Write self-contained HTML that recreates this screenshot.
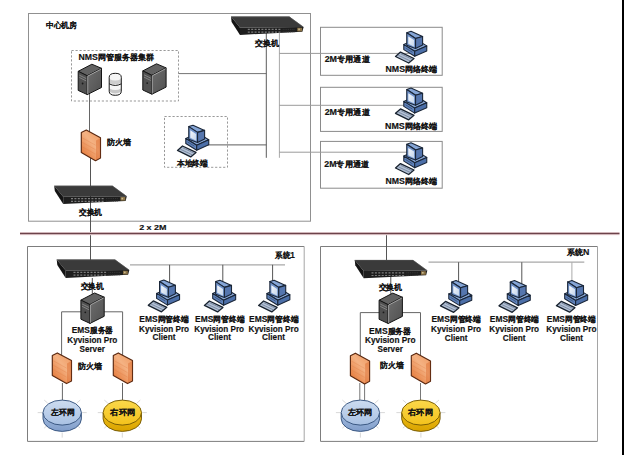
<!DOCTYPE html>
<html><head><meta charset="utf-8"><style>
html,body{margin:0;padding:0;background:#fff;width:624px;height:455px;overflow:hidden;}
svg{display:block;font-family:"Liberation Sans", sans-serif;}
</style></head><body>
<svg width="624" height="455" viewBox="0 0 624 455">
<rect width="624" height="455" fill="#fff"/>

<defs>
 <linearGradient id="scr" x1="0" y1="0" x2="1" y2="1">
  <stop offset="0" stop-color="#f6f9fd"/><stop offset="1" stop-color="#c3d4ea"/>
 </linearGradient>
 <linearGradient id="fwg" x1="0.1" y1="1" x2="0.8" y2="0.1">
  <stop offset="0" stop-color="#e2702e"/><stop offset="0.65" stop-color="#f4b283"/><stop offset="1" stop-color="#f0a06a"/>
 </linearGradient>
 <linearGradient id="srvR" x1="0" y1="0" x2="1" y2="1">
  <stop offset="0" stop-color="#6e6e6e"/><stop offset="1" stop-color="#505050"/>
 </linearGradient>
 <linearGradient id="rbT" x1="0" y1="0" x2="0" y2="1"><stop offset="0" stop-color="#cddcf0"/><stop offset="1" stop-color="#a9c1e3"/></linearGradient>
 <linearGradient id="rbS" x1="0" y1="0" x2="0" y2="1"><stop offset="0" stop-color="#a4bcdf"/><stop offset="1" stop-color="#809dca"/></linearGradient>
 <linearGradient id="ryT" x1="0" y1="0" x2="0" y2="1"><stop offset="0" stop-color="#fbd84a"/><stop offset="1" stop-color="#f3c21c"/></linearGradient>
 <linearGradient id="ryS" x1="0" y1="0" x2="0" y2="1"><stop offset="0" stop-color="#efbd16"/><stop offset="1" stop-color="#d9a300"/></linearGradient>
</defs>

<rect x="28.5" y="13.5" width="282" height="207.7" fill="none" stroke="#909090" stroke-width="1"/>
<rect x="71.5" y="50.5" width="107" height="50.5" fill="none" stroke="#999" stroke-width="1" stroke-dasharray="2.2,1.8"/>
<rect x="164.5" y="116.5" width="63" height="50.8" fill="none" stroke="#999" stroke-width="1" stroke-dasharray="2.2,1.8"/>
<rect x="320.5" y="27.3" width="121.7" height="48.0" fill="none" stroke="#8a8a8a" stroke-width="1"/>
<rect x="320.5" y="87.3" width="121.7" height="44.1" fill="none" stroke="#8a8a8a" stroke-width="1"/>
<rect x="320.5" y="141.4" width="121.7" height="46.8" fill="none" stroke="#8a8a8a" stroke-width="1"/>
<path d="M304.2,246.5 H27.5 V441.4 H304.2" fill="none" stroke="#7d7d7d" stroke-width="1"/>
<path d="M304.2,246.5 V441.4" fill="none" stroke="#a5a5a5" stroke-width="1"/>
<path d="M597.5,246.5 H320.5 V441.4 H597.5" fill="none" stroke="#7d7d7d" stroke-width="1"/>
<path d="M597.5,246.5 V441.4" fill="none" stroke="#a5a5a5" stroke-width="1"/>
<path d="M178.5,73.6 H266.3" fill="none" stroke="#747474" stroke-width="1"/>
<path d="M89.5,94 V132" fill="none" stroke="#666" stroke-width="1"/>
<path d="M90.5,158 V260" fill="none" stroke="#555" stroke-width="1"/>
<path d="M266.3,33 V157.8" fill="none" stroke="#5c5c5c" stroke-width="1"/>
<path d="M279.4,33 V157.8" fill="none" stroke="#a8a8a8" stroke-width="1"/>
<path d="M279.4,53.4 H410 M279.4,105.3 H410 M279.4,152.2 H410" fill="none" stroke="#9a9a9a" stroke-width="1"/>
<path d="M208,144.9 H266.3" fill="none" stroke="#5c5c5c" stroke-width="1"/>
<path d="M130,264.8 H285" fill="none" stroke="#a8a8a8" stroke-width="1.2"/>
<path d="M169.6,264.8 V285" fill="none" stroke="#555" stroke-width="1"/>
<path d="M222.8,264.8 V285" fill="none" stroke="#555" stroke-width="1"/>
<path d="M272.6,264.8 V285" fill="none" stroke="#555" stroke-width="1"/>
<path d="M61.6,356 V311.8 H122.6 V356" fill="none" stroke="#666" stroke-width="1"/>
<path d="M92.3,278 V297" fill="none" stroke="#555" stroke-width="1"/>
<path d="M390.8,276 V297" fill="none" stroke="#555" stroke-width="1"/>
<path d="M62.4,383 V401 M122.5,383 V401" fill="none" stroke="#666" stroke-width="1"/>
<path d="M386.5,233.7 V261" fill="none" stroke="#555" stroke-width="1"/>
<path d="M428.5,262.2 H584.3" fill="none" stroke="#a8a8a8" stroke-width="1.2"/>
<path d="M458.6,262.2 V285" fill="none" stroke="#555" stroke-width="1"/>
<path d="M521.8,262.2 V285" fill="none" stroke="#555" stroke-width="1"/>
<path d="M571.9,262.2 V285" fill="none" stroke="#aaa" stroke-width="1"/>
<path d="M360.3,356 V312.6 H420.5 V356" fill="none" stroke="#666" stroke-width="1"/>
<path d="M359.8,383 V401 M364.6,383 V401 M420.5,383 V401" fill="none" stroke="#777" stroke-width="1"/>
<g transform="translate(78,64)"><polygon points="0.2,7.3 13.9,0.2 23.5,4.3 9.3,11.8" fill="#626262" stroke="#151515" stroke-width="1" stroke-linejoin="round"/>
  <polygon points="0.2,7.3 9.3,11.8 9.3,30.6 0.2,26.4" fill="#505050" stroke="#151515" stroke-width="1" stroke-linejoin="round"/>
  <polygon points="9.3,11.8 23.5,4.3 23.5,23.5 9.3,30.6" fill="url(#srvR)" stroke="#151515" stroke-width="1" stroke-linejoin="round"/>
  <path d="M9.7,12.1 L23,5.1 M9.7,12.2 L9.7,30" fill="none" stroke="#cfcfcf" stroke-width="0.7"/>
  <path d="M1.4,11.2 L8.2,14.6 M1.4,13.5 L8.2,16.9" stroke="#9a9a9a" stroke-width="0.7"/>
  <circle cx="4.6" cy="19.5" r="0.9" fill="#1a1a1a"/></g>
<g transform="translate(108.7,73.3)"><path d="M0.5,4 Q0.5,0 6.55,0 Q12.6,0 12.6,4 V18 Q12.6,22 6.55,22 Q0.5,22 0.5,18 Z" fill="#f5f5f5"/>
  <path d="M0.8,5.6 Q6.55,8.6 12.3,5.6 L12.3,9.6 Q6.55,12.4 0.8,9.6 Z" fill="#cdcdcd"/>
  <path d="M0.8,15.2 Q6.55,18.2 12.3,15.2 L12.3,18.5 Q6.55,22 0.8,18.5 Z" fill="#c8c8c8"/>
  <path d="M0.5,10.5 Q6.55,13.8 12.6,10.5" fill="none" stroke="#1a1a1a" stroke-width="1"/>
  <path d="M0.5,4 Q0.5,0 6.55,0 Q12.6,0 12.6,4 V18 Q12.6,22 6.55,22 Q0.5,22 0.5,18 Z" fill="none" stroke="#1a1a1a" stroke-width="1"/></g>
<g transform="translate(142.6,63.6)"><polygon points="0.2,7.3 13.9,0.2 23.5,4.3 9.3,11.8" fill="#626262" stroke="#151515" stroke-width="1" stroke-linejoin="round"/>
  <polygon points="0.2,7.3 9.3,11.8 9.3,30.6 0.2,26.4" fill="#505050" stroke="#151515" stroke-width="1" stroke-linejoin="round"/>
  <polygon points="9.3,11.8 23.5,4.3 23.5,23.5 9.3,30.6" fill="url(#srvR)" stroke="#151515" stroke-width="1" stroke-linejoin="round"/>
  <path d="M9.7,12.1 L23,5.1 M9.7,12.2 L9.7,30" fill="none" stroke="#cfcfcf" stroke-width="0.7"/>
  <path d="M1.4,11.2 L8.2,14.6 M1.4,13.5 L8.2,16.9" stroke="#9a9a9a" stroke-width="0.7"/>
  <circle cx="4.6" cy="19.5" r="0.9" fill="#1a1a1a"/></g>
<g transform="translate(81,129.8)"><polygon points="0.3,2.7 5.3,0.2 19.5,7.9 19.5,28.2 14.5,30.9 0.3,22.8" fill="url(#fwg)" stroke="#5a2810" stroke-width="1.15" stroke-linejoin="round"/>
  <path d="M15,10.8 V30.3 L19.2,27.9 V8.4 Z" fill="#d9692c" opacity="0.45"/>
  <path d="M1.2,8 L14.5,15.4 M1.2,12.5 L14.5,19.9 M1.2,17 L14.5,24.4" stroke="#e07a42" stroke-width="0.6" opacity="0.5"/></g>
<g transform="translate(54,185.8)"><polygon points="0.2,0 58.5,0 72.8,10.5 9.2,11" fill="#3a3a3a"/>
  <polygon points="0.2,0 9.2,11 9.2,18.3 0.8,5.3" fill="#141414"/>
  <polygon points="9.2,11 72.8,10.5 71.6,15.2 9.2,18.3" fill="#1e1e1e"/>
  <path d="M0.2,0.3 L58.5,0.3 L72.6,10.5" fill="none" stroke="#555" stroke-width="0.6"/>
  <path d="M17,12.8 H51 M17,15.5 H51" stroke="#7c7c7c" stroke-width="1.2" stroke-dasharray="2,1.4"/>
  <path d="M52,12.8 H64 M52,15.3 H64" stroke="#3c3c3c" stroke-width="1" stroke-dasharray="0.8,1"/>
  <rect x="66.5" y="11.2" width="4.8" height="3.6" fill="#8a7245"/>
  <rect x="67.5" y="12" width="1.6" height="1.6" fill="#c8b890"/></g>
<g transform="translate(230.8,16.6)"><polygon points="0.2,0 58.5,0 72.8,10.5 9.2,11" fill="#3a3a3a"/>
  <polygon points="0.2,0 9.2,11 9.2,18.3 0.8,5.3" fill="#141414"/>
  <polygon points="9.2,11 72.8,10.5 71.6,15.2 9.2,18.3" fill="#1e1e1e"/>
  <path d="M0.2,0.3 L58.5,0.3 L72.6,10.5" fill="none" stroke="#555" stroke-width="0.6"/>
  <path d="M17,12.8 H51 M17,15.5 H51" stroke="#7c7c7c" stroke-width="1.2" stroke-dasharray="2,1.4"/>
  <path d="M52,12.8 H64 M52,15.3 H64" stroke="#3c3c3c" stroke-width="1" stroke-dasharray="0.8,1"/>
  <rect x="66.5" y="11.2" width="4.8" height="3.6" fill="#8a7245"/>
  <rect x="67.5" y="12" width="1.6" height="1.6" fill="#c8b890"/></g>
<g transform="translate(177,125.4)"><polygon points="0.5,25 5.5,20.6 19,27 13.7,31.5" fill="#b3c1d5" stroke="#18222f" stroke-width="1.3" stroke-linejoin="round"/>
  <path d="M3.3,23.8 L15.2,29.4 M5.6,22.3 L17.2,27.8" stroke="#65768f" stroke-width="0.7"/>
  <polygon points="8.8,13.1 20.85,7.7 31.75,14.4 19.7,19.8" fill="#8aa8d6" stroke="#1a2638" stroke-width="1.1" stroke-linejoin="round"/>
  <polygon points="8.8,13.1 19.7,19.8 19.7,24.8 8.8,18.1" fill="#6185bf" stroke="#1a2638" stroke-width="1.1" stroke-linejoin="round"/>
  <polygon points="19.7,19.8 31.75,14.4 31.75,19.4 19.7,24.8" fill="#4c6fa8" stroke="#1a2638" stroke-width="1.1" stroke-linejoin="round"/>
  <path d="M10.5,16.5 L17.5,20.8" stroke="#2a3a58" stroke-width="0.6"/>
  <polygon points="11.75,1.2 16,-0.2 27.6,5 20.5,7" fill="#85a5d6" stroke="#1a2638" stroke-width="1.1" stroke-linejoin="round"/>
  <polygon points="20.5,7 27.6,5 27.6,13.5 20.5,17" fill="#5576ae" stroke="#1a2638" stroke-width="1.1" stroke-linejoin="round"/>
  <polygon points="11.75,1.2 20.5,7 20.5,17 11.75,13.8" fill="#7093cb" stroke="#1a2638" stroke-width="1.1" stroke-linejoin="round"/>
  <polygon points="13.3,4.9 19.1,8.6 19.1,15.3 13.3,12.3" fill="url(#scr)"/></g>
<g transform="translate(395,31.5)"><polygon points="0.5,25 5.5,20.6 19,27 13.7,31.5" fill="#b3c1d5" stroke="#18222f" stroke-width="1.3" stroke-linejoin="round"/>
  <path d="M3.3,23.8 L15.2,29.4 M5.6,22.3 L17.2,27.8" stroke="#65768f" stroke-width="0.7"/>
  <polygon points="8.8,13.1 20.85,7.7 31.75,14.4 19.7,19.8" fill="#8aa8d6" stroke="#1a2638" stroke-width="1.1" stroke-linejoin="round"/>
  <polygon points="8.8,13.1 19.7,19.8 19.7,24.8 8.8,18.1" fill="#6185bf" stroke="#1a2638" stroke-width="1.1" stroke-linejoin="round"/>
  <polygon points="19.7,19.8 31.75,14.4 31.75,19.4 19.7,24.8" fill="#4c6fa8" stroke="#1a2638" stroke-width="1.1" stroke-linejoin="round"/>
  <path d="M10.5,16.5 L17.5,20.8" stroke="#2a3a58" stroke-width="0.6"/>
  <polygon points="11.75,1.2 16,-0.2 27.6,5 20.5,7" fill="#85a5d6" stroke="#1a2638" stroke-width="1.1" stroke-linejoin="round"/>
  <polygon points="20.5,7 27.6,5 27.6,13.5 20.5,17" fill="#5576ae" stroke="#1a2638" stroke-width="1.1" stroke-linejoin="round"/>
  <polygon points="11.75,1.2 20.5,7 20.5,17 11.75,13.8" fill="#7093cb" stroke="#1a2638" stroke-width="1.1" stroke-linejoin="round"/>
  <polygon points="13.3,4.9 19.1,8.6 19.1,15.3 13.3,12.3" fill="url(#scr)"/></g>
<g transform="translate(395,88.3)"><polygon points="0.5,25 5.5,20.6 19,27 13.7,31.5" fill="#b3c1d5" stroke="#18222f" stroke-width="1.3" stroke-linejoin="round"/>
  <path d="M3.3,23.8 L15.2,29.4 M5.6,22.3 L17.2,27.8" stroke="#65768f" stroke-width="0.7"/>
  <polygon points="8.8,13.1 20.85,7.7 31.75,14.4 19.7,19.8" fill="#8aa8d6" stroke="#1a2638" stroke-width="1.1" stroke-linejoin="round"/>
  <polygon points="8.8,13.1 19.7,19.8 19.7,24.8 8.8,18.1" fill="#6185bf" stroke="#1a2638" stroke-width="1.1" stroke-linejoin="round"/>
  <polygon points="19.7,19.8 31.75,14.4 31.75,19.4 19.7,24.8" fill="#4c6fa8" stroke="#1a2638" stroke-width="1.1" stroke-linejoin="round"/>
  <path d="M10.5,16.5 L17.5,20.8" stroke="#2a3a58" stroke-width="0.6"/>
  <polygon points="11.75,1.2 16,-0.2 27.6,5 20.5,7" fill="#85a5d6" stroke="#1a2638" stroke-width="1.1" stroke-linejoin="round"/>
  <polygon points="20.5,7 27.6,5 27.6,13.5 20.5,17" fill="#5576ae" stroke="#1a2638" stroke-width="1.1" stroke-linejoin="round"/>
  <polygon points="11.75,1.2 20.5,7 20.5,17 11.75,13.8" fill="#7093cb" stroke="#1a2638" stroke-width="1.1" stroke-linejoin="round"/>
  <polygon points="13.3,4.9 19.1,8.6 19.1,15.3 13.3,12.3" fill="url(#scr)"/></g>
<g transform="translate(395,143)"><polygon points="0.5,25 5.5,20.6 19,27 13.7,31.5" fill="#b3c1d5" stroke="#18222f" stroke-width="1.3" stroke-linejoin="round"/>
  <path d="M3.3,23.8 L15.2,29.4 M5.6,22.3 L17.2,27.8" stroke="#65768f" stroke-width="0.7"/>
  <polygon points="8.8,13.1 20.85,7.7 31.75,14.4 19.7,19.8" fill="#8aa8d6" stroke="#1a2638" stroke-width="1.1" stroke-linejoin="round"/>
  <polygon points="8.8,13.1 19.7,19.8 19.7,24.8 8.8,18.1" fill="#6185bf" stroke="#1a2638" stroke-width="1.1" stroke-linejoin="round"/>
  <polygon points="19.7,19.8 31.75,14.4 31.75,19.4 19.7,24.8" fill="#4c6fa8" stroke="#1a2638" stroke-width="1.1" stroke-linejoin="round"/>
  <path d="M10.5,16.5 L17.5,20.8" stroke="#2a3a58" stroke-width="0.6"/>
  <polygon points="11.75,1.2 16,-0.2 27.6,5 20.5,7" fill="#85a5d6" stroke="#1a2638" stroke-width="1.1" stroke-linejoin="round"/>
  <polygon points="20.5,7 27.6,5 27.6,13.5 20.5,17" fill="#5576ae" stroke="#1a2638" stroke-width="1.1" stroke-linejoin="round"/>
  <polygon points="11.75,1.2 20.5,7 20.5,17 11.75,13.8" fill="#7093cb" stroke="#1a2638" stroke-width="1.1" stroke-linejoin="round"/>
  <polygon points="13.3,4.9 19.1,8.6 19.1,15.3 13.3,12.3" fill="url(#scr)"/></g>
<g transform="translate(56.5,259.6)"><polygon points="0.2,0 58.5,0 72.8,10.5 9.2,11" fill="#3a3a3a"/>
  <polygon points="0.2,0 9.2,11 9.2,18.3 0.8,5.3" fill="#141414"/>
  <polygon points="9.2,11 72.8,10.5 71.6,15.2 9.2,18.3" fill="#1e1e1e"/>
  <path d="M0.2,0.3 L58.5,0.3 L72.6,10.5" fill="none" stroke="#555" stroke-width="0.6"/>
  <path d="M17,12.8 H51 M17,15.5 H51" stroke="#7c7c7c" stroke-width="1.2" stroke-dasharray="2,1.4"/>
  <path d="M52,12.8 H64 M52,15.3 H64" stroke="#3c3c3c" stroke-width="1" stroke-dasharray="0.8,1"/>
  <rect x="66.5" y="11.2" width="4.8" height="3.6" fill="#8a7245"/>
  <rect x="67.5" y="12" width="1.6" height="1.6" fill="#c8b890"/></g>
<g transform="translate(354.5,260)"><polygon points="0.2,0 58.5,0 72.8,10.5 9.2,11" fill="#3a3a3a"/>
  <polygon points="0.2,0 9.2,11 9.2,18.3 0.8,5.3" fill="#141414"/>
  <polygon points="9.2,11 72.8,10.5 71.6,15.2 9.2,18.3" fill="#1e1e1e"/>
  <path d="M0.2,0.3 L58.5,0.3 L72.6,10.5" fill="none" stroke="#555" stroke-width="0.6"/>
  <path d="M17,12.8 H51 M17,15.5 H51" stroke="#7c7c7c" stroke-width="1.2" stroke-dasharray="2,1.4"/>
  <path d="M52,12.8 H64 M52,15.3 H64" stroke="#3c3c3c" stroke-width="1" stroke-dasharray="0.8,1"/>
  <rect x="66.5" y="11.2" width="4.8" height="3.6" fill="#8a7245"/>
  <rect x="67.5" y="12" width="1.6" height="1.6" fill="#c8b890"/></g>
<g transform="translate(147.8,280.3)"><polygon points="0.5,25 5.5,20.6 19,27 13.7,31.5" fill="#b3c1d5" stroke="#18222f" stroke-width="1.3" stroke-linejoin="round"/>
  <path d="M3.3,23.8 L15.2,29.4 M5.6,22.3 L17.2,27.8" stroke="#65768f" stroke-width="0.7"/>
  <polygon points="8.8,13.1 20.85,7.7 31.75,14.4 19.7,19.8" fill="#8aa8d6" stroke="#1a2638" stroke-width="1.1" stroke-linejoin="round"/>
  <polygon points="8.8,13.1 19.7,19.8 19.7,24.8 8.8,18.1" fill="#6185bf" stroke="#1a2638" stroke-width="1.1" stroke-linejoin="round"/>
  <polygon points="19.7,19.8 31.75,14.4 31.75,19.4 19.7,24.8" fill="#4c6fa8" stroke="#1a2638" stroke-width="1.1" stroke-linejoin="round"/>
  <path d="M10.5,16.5 L17.5,20.8" stroke="#2a3a58" stroke-width="0.6"/>
  <polygon points="11.75,1.2 16,-0.2 27.6,5 20.5,7" fill="#85a5d6" stroke="#1a2638" stroke-width="1.1" stroke-linejoin="round"/>
  <polygon points="20.5,7 27.6,5 27.6,13.5 20.5,17" fill="#5576ae" stroke="#1a2638" stroke-width="1.1" stroke-linejoin="round"/>
  <polygon points="11.75,1.2 20.5,7 20.5,17 11.75,13.8" fill="#7093cb" stroke="#1a2638" stroke-width="1.1" stroke-linejoin="round"/>
  <polygon points="13.3,4.9 19.1,8.6 19.1,15.3 13.3,12.3" fill="url(#scr)"/></g>
<g transform="translate(203.9,280.4)"><polygon points="0.5,25 5.5,20.6 19,27 13.7,31.5" fill="#b3c1d5" stroke="#18222f" stroke-width="1.3" stroke-linejoin="round"/>
  <path d="M3.3,23.8 L15.2,29.4 M5.6,22.3 L17.2,27.8" stroke="#65768f" stroke-width="0.7"/>
  <polygon points="8.8,13.1 20.85,7.7 31.75,14.4 19.7,19.8" fill="#8aa8d6" stroke="#1a2638" stroke-width="1.1" stroke-linejoin="round"/>
  <polygon points="8.8,13.1 19.7,19.8 19.7,24.8 8.8,18.1" fill="#6185bf" stroke="#1a2638" stroke-width="1.1" stroke-linejoin="round"/>
  <polygon points="19.7,19.8 31.75,14.4 31.75,19.4 19.7,24.8" fill="#4c6fa8" stroke="#1a2638" stroke-width="1.1" stroke-linejoin="round"/>
  <path d="M10.5,16.5 L17.5,20.8" stroke="#2a3a58" stroke-width="0.6"/>
  <polygon points="11.75,1.2 16,-0.2 27.6,5 20.5,7" fill="#85a5d6" stroke="#1a2638" stroke-width="1.1" stroke-linejoin="round"/>
  <polygon points="20.5,7 27.6,5 27.6,13.5 20.5,17" fill="#5576ae" stroke="#1a2638" stroke-width="1.1" stroke-linejoin="round"/>
  <polygon points="11.75,1.2 20.5,7 20.5,17 11.75,13.8" fill="#7093cb" stroke="#1a2638" stroke-width="1.1" stroke-linejoin="round"/>
  <polygon points="13.3,4.9 19.1,8.6 19.1,15.3 13.3,12.3" fill="url(#scr)"/></g>
<g transform="translate(258.1,280.4)"><polygon points="0.5,25 5.5,20.6 19,27 13.7,31.5" fill="#b3c1d5" stroke="#18222f" stroke-width="1.3" stroke-linejoin="round"/>
  <path d="M3.3,23.8 L15.2,29.4 M5.6,22.3 L17.2,27.8" stroke="#65768f" stroke-width="0.7"/>
  <polygon points="8.8,13.1 20.85,7.7 31.75,14.4 19.7,19.8" fill="#8aa8d6" stroke="#1a2638" stroke-width="1.1" stroke-linejoin="round"/>
  <polygon points="8.8,13.1 19.7,19.8 19.7,24.8 8.8,18.1" fill="#6185bf" stroke="#1a2638" stroke-width="1.1" stroke-linejoin="round"/>
  <polygon points="19.7,19.8 31.75,14.4 31.75,19.4 19.7,24.8" fill="#4c6fa8" stroke="#1a2638" stroke-width="1.1" stroke-linejoin="round"/>
  <path d="M10.5,16.5 L17.5,20.8" stroke="#2a3a58" stroke-width="0.6"/>
  <polygon points="11.75,1.2 16,-0.2 27.6,5 20.5,7" fill="#85a5d6" stroke="#1a2638" stroke-width="1.1" stroke-linejoin="round"/>
  <polygon points="20.5,7 27.6,5 27.6,13.5 20.5,17" fill="#5576ae" stroke="#1a2638" stroke-width="1.1" stroke-linejoin="round"/>
  <polygon points="11.75,1.2 20.5,7 20.5,17 11.75,13.8" fill="#7093cb" stroke="#1a2638" stroke-width="1.1" stroke-linejoin="round"/>
  <polygon points="13.3,4.9 19.1,8.6 19.1,15.3 13.3,12.3" fill="url(#scr)"/></g>
<g transform="translate(440,280.8)"><polygon points="0.5,25 5.5,20.6 19,27 13.7,31.5" fill="#b3c1d5" stroke="#18222f" stroke-width="1.3" stroke-linejoin="round"/>
  <path d="M3.3,23.8 L15.2,29.4 M5.6,22.3 L17.2,27.8" stroke="#65768f" stroke-width="0.7"/>
  <polygon points="8.8,13.1 20.85,7.7 31.75,14.4 19.7,19.8" fill="#8aa8d6" stroke="#1a2638" stroke-width="1.1" stroke-linejoin="round"/>
  <polygon points="8.8,13.1 19.7,19.8 19.7,24.8 8.8,18.1" fill="#6185bf" stroke="#1a2638" stroke-width="1.1" stroke-linejoin="round"/>
  <polygon points="19.7,19.8 31.75,14.4 31.75,19.4 19.7,24.8" fill="#4c6fa8" stroke="#1a2638" stroke-width="1.1" stroke-linejoin="round"/>
  <path d="M10.5,16.5 L17.5,20.8" stroke="#2a3a58" stroke-width="0.6"/>
  <polygon points="11.75,1.2 16,-0.2 27.6,5 20.5,7" fill="#85a5d6" stroke="#1a2638" stroke-width="1.1" stroke-linejoin="round"/>
  <polygon points="20.5,7 27.6,5 27.6,13.5 20.5,17" fill="#5576ae" stroke="#1a2638" stroke-width="1.1" stroke-linejoin="round"/>
  <polygon points="11.75,1.2 20.5,7 20.5,17 11.75,13.8" fill="#7093cb" stroke="#1a2638" stroke-width="1.1" stroke-linejoin="round"/>
  <polygon points="13.3,4.9 19.1,8.6 19.1,15.3 13.3,12.3" fill="url(#scr)"/></g>
<g transform="translate(498.5,280.8)"><polygon points="0.5,25 5.5,20.6 19,27 13.7,31.5" fill="#b3c1d5" stroke="#18222f" stroke-width="1.3" stroke-linejoin="round"/>
  <path d="M3.3,23.8 L15.2,29.4 M5.6,22.3 L17.2,27.8" stroke="#65768f" stroke-width="0.7"/>
  <polygon points="8.8,13.1 20.85,7.7 31.75,14.4 19.7,19.8" fill="#8aa8d6" stroke="#1a2638" stroke-width="1.1" stroke-linejoin="round"/>
  <polygon points="8.8,13.1 19.7,19.8 19.7,24.8 8.8,18.1" fill="#6185bf" stroke="#1a2638" stroke-width="1.1" stroke-linejoin="round"/>
  <polygon points="19.7,19.8 31.75,14.4 31.75,19.4 19.7,24.8" fill="#4c6fa8" stroke="#1a2638" stroke-width="1.1" stroke-linejoin="round"/>
  <path d="M10.5,16.5 L17.5,20.8" stroke="#2a3a58" stroke-width="0.6"/>
  <polygon points="11.75,1.2 16,-0.2 27.6,5 20.5,7" fill="#85a5d6" stroke="#1a2638" stroke-width="1.1" stroke-linejoin="round"/>
  <polygon points="20.5,7 27.6,5 27.6,13.5 20.5,17" fill="#5576ae" stroke="#1a2638" stroke-width="1.1" stroke-linejoin="round"/>
  <polygon points="11.75,1.2 20.5,7 20.5,17 11.75,13.8" fill="#7093cb" stroke="#1a2638" stroke-width="1.1" stroke-linejoin="round"/>
  <polygon points="13.3,4.9 19.1,8.6 19.1,15.3 13.3,12.3" fill="url(#scr)"/></g>
<g transform="translate(555.9,280.7)"><polygon points="0.5,25 5.5,20.6 19,27 13.7,31.5" fill="#b3c1d5" stroke="#18222f" stroke-width="1.3" stroke-linejoin="round"/>
  <path d="M3.3,23.8 L15.2,29.4 M5.6,22.3 L17.2,27.8" stroke="#65768f" stroke-width="0.7"/>
  <polygon points="8.8,13.1 20.85,7.7 31.75,14.4 19.7,19.8" fill="#8aa8d6" stroke="#1a2638" stroke-width="1.1" stroke-linejoin="round"/>
  <polygon points="8.8,13.1 19.7,19.8 19.7,24.8 8.8,18.1" fill="#6185bf" stroke="#1a2638" stroke-width="1.1" stroke-linejoin="round"/>
  <polygon points="19.7,19.8 31.75,14.4 31.75,19.4 19.7,24.8" fill="#4c6fa8" stroke="#1a2638" stroke-width="1.1" stroke-linejoin="round"/>
  <path d="M10.5,16.5 L17.5,20.8" stroke="#2a3a58" stroke-width="0.6"/>
  <polygon points="11.75,1.2 16,-0.2 27.6,5 20.5,7" fill="#85a5d6" stroke="#1a2638" stroke-width="1.1" stroke-linejoin="round"/>
  <polygon points="20.5,7 27.6,5 27.6,13.5 20.5,17" fill="#5576ae" stroke="#1a2638" stroke-width="1.1" stroke-linejoin="round"/>
  <polygon points="11.75,1.2 20.5,7 20.5,17 11.75,13.8" fill="#7093cb" stroke="#1a2638" stroke-width="1.1" stroke-linejoin="round"/>
  <polygon points="13.3,4.9 19.1,8.6 19.1,15.3 13.3,12.3" fill="url(#scr)"/></g>
<g transform="translate(80.7,292.8)"><polygon points="0.2,7.3 13.9,0.2 23.5,4.3 9.3,11.8" fill="#626262" stroke="#151515" stroke-width="1" stroke-linejoin="round"/>
  <polygon points="0.2,7.3 9.3,11.8 9.3,30.6 0.2,26.4" fill="#505050" stroke="#151515" stroke-width="1" stroke-linejoin="round"/>
  <polygon points="9.3,11.8 23.5,4.3 23.5,23.5 9.3,30.6" fill="url(#srvR)" stroke="#151515" stroke-width="1" stroke-linejoin="round"/>
  <path d="M9.7,12.1 L23,5.1 M9.7,12.2 L9.7,30" fill="none" stroke="#cfcfcf" stroke-width="0.7"/>
  <path d="M1.4,11.2 L8.2,14.6 M1.4,13.5 L8.2,16.9" stroke="#9a9a9a" stroke-width="0.7"/>
  <circle cx="4.6" cy="19.5" r="0.9" fill="#1a1a1a"/></g>
<g transform="translate(378.9,292.9)"><polygon points="0.2,7.3 13.9,0.2 23.5,4.3 9.3,11.8" fill="#626262" stroke="#151515" stroke-width="1" stroke-linejoin="round"/>
  <polygon points="0.2,7.3 9.3,11.8 9.3,30.6 0.2,26.4" fill="#505050" stroke="#151515" stroke-width="1" stroke-linejoin="round"/>
  <polygon points="9.3,11.8 23.5,4.3 23.5,23.5 9.3,30.6" fill="url(#srvR)" stroke="#151515" stroke-width="1" stroke-linejoin="round"/>
  <path d="M9.7,12.1 L23,5.1 M9.7,12.2 L9.7,30" fill="none" stroke="#cfcfcf" stroke-width="0.7"/>
  <path d="M1.4,11.2 L8.2,14.6 M1.4,13.5 L8.2,16.9" stroke="#9a9a9a" stroke-width="0.7"/>
  <circle cx="4.6" cy="19.5" r="0.9" fill="#1a1a1a"/></g>
<g transform="translate(52,352.7)"><polygon points="0.3,2.7 5.3,0.2 19.5,7.9 19.5,28.2 14.5,30.9 0.3,22.8" fill="url(#fwg)" stroke="#5a2810" stroke-width="1.15" stroke-linejoin="round"/>
  <path d="M15,10.8 V30.3 L19.2,27.9 V8.4 Z" fill="#d9692c" opacity="0.45"/>
  <path d="M1.2,8 L14.5,15.4 M1.2,12.5 L14.5,19.9 M1.2,17 L14.5,24.4" stroke="#e07a42" stroke-width="0.6" opacity="0.5"/></g>
<g transform="translate(113,352.7)"><polygon points="0.3,2.7 5.3,0.2 19.5,7.9 19.5,28.2 14.5,30.9 0.3,22.8" fill="url(#fwg)" stroke="#5a2810" stroke-width="1.15" stroke-linejoin="round"/>
  <path d="M15,10.8 V30.3 L19.2,27.9 V8.4 Z" fill="#d9692c" opacity="0.45"/>
  <path d="M1.2,8 L14.5,15.4 M1.2,12.5 L14.5,19.9 M1.2,17 L14.5,24.4" stroke="#e07a42" stroke-width="0.6" opacity="0.5"/></g>
<g transform="translate(350.1,353)"><polygon points="0.3,2.7 5.3,0.2 19.5,7.9 19.5,28.2 14.5,30.9 0.3,22.8" fill="url(#fwg)" stroke="#5a2810" stroke-width="1.15" stroke-linejoin="round"/>
  <path d="M15,10.8 V30.3 L19.2,27.9 V8.4 Z" fill="#d9692c" opacity="0.45"/>
  <path d="M1.2,8 L14.5,15.4 M1.2,12.5 L14.5,19.9 M1.2,17 L14.5,24.4" stroke="#e07a42" stroke-width="0.6" opacity="0.5"/></g>
<g transform="translate(411,353)"><polygon points="0.3,2.7 5.3,0.2 19.5,7.9 19.5,28.2 14.5,30.9 0.3,22.8" fill="url(#fwg)" stroke="#5a2810" stroke-width="1.15" stroke-linejoin="round"/>
  <path d="M15,10.8 V30.3 L19.2,27.9 V8.4 Z" fill="#d9692c" opacity="0.45"/>
  <path d="M1.2,8 L14.5,15.4 M1.2,12.5 L14.5,19.9 M1.2,17 L14.5,24.4" stroke="#e07a42" stroke-width="0.6" opacity="0.5"/></g>
<g transform="translate(62.2,412.6)"><path d="M-24.5,0 H-20 M20,0 H24.5 M-18,-12.5 L-14.5,-9.5 M18,-12.5 L14.5,-9.5 M-18,15.5 L-14.5,12.5 M18,15.5 L14.5,12.5 M0,20 V25" stroke="#d4d4d4" stroke-width="0.9"/><path d="M-19.2,0 V6.3 A19.2,12.5 0 0 0 19.2,6.3 V0" fill="url(#rbS)" stroke="#2f4d78" stroke-width="0.9"/><ellipse cx="0" cy="0" rx="19.2" ry="12.5" fill="url(#rbT)" stroke="#2f4d78" stroke-width="0.9"/></g>
<g transform="translate(122.3,412.6)"><path d="M-24.5,0 H-20 M20,0 H24.5 M-18,-12.5 L-14.5,-9.5 M18,-12.5 L14.5,-9.5 M-18,15.5 L-14.5,12.5 M18,15.5 L14.5,12.5 M0,20 V25" stroke="#d4d4d4" stroke-width="0.9"/><path d="M-19.2,0 V6.3 A19.2,12.5 0 0 0 19.2,6.3 V0" fill="url(#ryS)" stroke="#6e5400" stroke-width="0.9"/><ellipse cx="0" cy="0" rx="19.2" ry="12.5" fill="url(#ryT)" stroke="#6e5400" stroke-width="0.9"/></g>
<g transform="translate(360.4,412.6)"><path d="M-24.5,0 H-20 M20,0 H24.5 M-18,-12.5 L-14.5,-9.5 M18,-12.5 L14.5,-9.5 M-18,15.5 L-14.5,12.5 M18,15.5 L14.5,12.5 M0,20 V25" stroke="#d4d4d4" stroke-width="0.9"/><path d="M-19.2,0 V6.3 A19.2,12.5 0 0 0 19.2,6.3 V0" fill="url(#rbS)" stroke="#2f4d78" stroke-width="0.9"/><ellipse cx="0" cy="0" rx="19.2" ry="12.5" fill="url(#rbT)" stroke="#2f4d78" stroke-width="0.9"/></g>
<g transform="translate(420.9,412.6)"><path d="M-24.5,0 H-20 M20,0 H24.5 M-18,-12.5 L-14.5,-9.5 M18,-12.5 L14.5,-9.5 M-18,15.5 L-14.5,12.5 M18,15.5 L14.5,12.5 M0,20 V25" stroke="#d4d4d4" stroke-width="0.9"/><path d="M-19.2,0 V6.3 A19.2,12.5 0 0 0 19.2,6.3 V0" fill="url(#ryS)" stroke="#6e5400" stroke-width="0.9"/><ellipse cx="0" cy="0" rx="19.2" ry="12.5" fill="url(#ryT)" stroke="#6e5400" stroke-width="0.9"/></g>
<path d="M20,233.6 H619.5" stroke="#f3dde0" stroke-width="3.4"/>
<path d="M20,233.6 H619.5" stroke="#6c434a" stroke-width="1.5"/>
<rect x="622" y="0" width="2" height="455" fill="#000"/>
<text x="45.75" y="28.45" font-size="7.9" font-weight="bold" textLength="31.25" lengthAdjust="spacingAndGlyphs" fill="#111" stroke="#111" stroke-width="0.04">中心机房</text>
<text x="78.50" y="59.95" font-size="8" font-weight="bold" textLength="75.50" lengthAdjust="spacingAndGlyphs" fill="#111" stroke="#111" stroke-width="0.04"><tspan font-size="8.7" stroke-width="0.16">NMS</tspan><tspan font-size="7.9" stroke-width="0.04">网管服务器集群</tspan></text>
<text x="106.75" y="145.38" font-size="7.9" font-weight="bold" textLength="24.36" lengthAdjust="spacingAndGlyphs" fill="#111" stroke="#111" stroke-width="0.04">防火墙</text>
<text x="78.80" y="215.30" font-size="7.9" font-weight="bold" textLength="23.36" lengthAdjust="spacingAndGlyphs" fill="#111" stroke="#111" stroke-width="0.04">交换机</text>
<text x="254.90" y="46.00" font-size="7.9" font-weight="bold" textLength="24.10" lengthAdjust="spacingAndGlyphs" fill="#111" stroke="#111" stroke-width="0.04">交换机</text>
<text x="177.05" y="166.40" font-size="7.9" font-weight="bold" textLength="30.86" lengthAdjust="spacingAndGlyphs" fill="#111" stroke="#111" stroke-width="0.04">本地终端</text>
<text x="324.65" y="61.65" font-size="8" font-weight="bold" textLength="45.25" lengthAdjust="spacingAndGlyphs" fill="#111" stroke="#111" stroke-width="0.04"><tspan font-size="8.7" stroke-width="0.16">2M</tspan><tspan font-size="7.9" stroke-width="0.04">专用通道</tspan></text>
<text x="385.50" y="72.40" font-size="8" font-weight="bold" textLength="51.81" lengthAdjust="spacingAndGlyphs" fill="#111" stroke="#111" stroke-width="0.04"><tspan font-size="8.7" stroke-width="0.16">NMS</tspan><tspan font-size="7.9" stroke-width="0.04">网络终端</tspan></text>
<text x="324.65" y="114.85" font-size="8" font-weight="bold" textLength="45.25" lengthAdjust="spacingAndGlyphs" fill="#111" stroke="#111" stroke-width="0.04"><tspan font-size="8.7" stroke-width="0.16">2M</tspan><tspan font-size="7.9" stroke-width="0.04">专用通道</tspan></text>
<text x="385.00" y="129.05" font-size="8" font-weight="bold" textLength="52.36" lengthAdjust="spacingAndGlyphs" fill="#111" stroke="#111" stroke-width="0.04"><tspan font-size="8.7" stroke-width="0.16">NMS</tspan><tspan font-size="7.9" stroke-width="0.04">网络终端</tspan></text>
<text x="324.25" y="167.25" font-size="8" font-weight="bold" textLength="44.75" lengthAdjust="spacingAndGlyphs" fill="#111" stroke="#111" stroke-width="0.04"><tspan font-size="8.7" stroke-width="0.16">2M</tspan><tspan font-size="7.9" stroke-width="0.04">专用通道</tspan></text>
<text x="385.40" y="183.90" font-size="8" font-weight="bold" textLength="51.61" lengthAdjust="spacingAndGlyphs" fill="#111" stroke="#111" stroke-width="0.04"><tspan font-size="8.7" stroke-width="0.16">NMS</tspan><tspan font-size="7.9" stroke-width="0.04">网络终端</tspan></text>
<text x="139.15" y="229.90" font-size="8.1" font-weight="bold" textLength="27.37" lengthAdjust="spacingAndGlyphs" fill="#111" stroke="#111" stroke-width="0.16">2 x 2M</text>
<text x="275.10" y="258.05" font-size="8" font-weight="bold" textLength="19.80" lengthAdjust="spacingAndGlyphs" fill="#111" stroke="#111" stroke-width="0.04"><tspan font-size="7.9" stroke-width="0.04">系统</tspan><tspan font-size="8.7" stroke-width="0.16">1</tspan></text>
<text x="566.90" y="255.40" font-size="8" font-weight="bold" textLength="22.51" lengthAdjust="spacingAndGlyphs" fill="#111" stroke="#111" stroke-width="0.04"><tspan font-size="7.9" stroke-width="0.04">系统</tspan><tspan font-size="8.7" stroke-width="0.16">N</tspan></text>
<text x="80.60" y="289.20" font-size="7.9" font-weight="bold" textLength="23.11" lengthAdjust="spacingAndGlyphs" fill="#111" stroke="#111" stroke-width="0.04">交换机</text>
<text x="378.50" y="289.55" font-size="7.9" font-weight="bold" textLength="23.81" lengthAdjust="spacingAndGlyphs" fill="#111" stroke="#111" stroke-width="0.04">交换机</text>
<text x="71.80" y="333.20" font-size="8" font-weight="bold" textLength="41.06" lengthAdjust="spacingAndGlyphs" fill="#111" stroke="#111" stroke-width="0.04"><tspan font-size="8.7" stroke-width="0.16">EMS</tspan><tspan font-size="7.9" stroke-width="0.04">服务器</tspan></text>
<text x="67.30" y="342.55" font-size="8.7" font-weight="bold" textLength="50.06" lengthAdjust="spacingAndGlyphs" fill="#111" stroke="#111" stroke-width="0.16">Kyvision Pro</text>
<text x="79.55" y="351.70" font-size="8.7" font-weight="bold" textLength="25.26" lengthAdjust="spacingAndGlyphs" fill="#111" stroke="#111" stroke-width="0.16">Server</text>
<text x="369.10" y="333.90" font-size="8" font-weight="bold" textLength="42.01" lengthAdjust="spacingAndGlyphs" fill="#111" stroke="#111" stroke-width="0.04"><tspan font-size="8.7" stroke-width="0.16">EMS</tspan><tspan font-size="7.9" stroke-width="0.04">服务器</tspan></text>
<text x="365.00" y="343.25" font-size="8.7" font-weight="bold" textLength="50.56" lengthAdjust="spacingAndGlyphs" fill="#111" stroke="#111" stroke-width="0.16">Kyvision Pro</text>
<text x="377.55" y="352.40" font-size="8.7" font-weight="bold" textLength="25.26" lengthAdjust="spacingAndGlyphs" fill="#111" stroke="#111" stroke-width="0.16">Server</text>
<text x="77.65" y="369.33" font-size="7.9" font-weight="bold" textLength="24.46" lengthAdjust="spacingAndGlyphs" fill="#111" stroke="#111" stroke-width="0.04">防火墙</text>
<text x="379.85" y="368.10" font-size="7.9" font-weight="bold" textLength="23.77" lengthAdjust="spacingAndGlyphs" fill="#111" stroke="#111" stroke-width="0.04">防火墙</text>
<text x="51.15" y="415.28" font-size="7.9" font-weight="bold" textLength="23.36" lengthAdjust="spacingAndGlyphs" fill="#111" stroke="#111" stroke-width="0.04">左环网</text>
<text x="110.45" y="415.40" font-size="7.9" font-weight="bold" textLength="24.72" lengthAdjust="spacingAndGlyphs" fill="#111" stroke="#111" stroke-width="0.04">右环网</text>
<text x="347.85" y="415.40" font-size="7.9" font-weight="bold" textLength="24.46" lengthAdjust="spacingAndGlyphs" fill="#111" stroke="#111" stroke-width="0.04">左环网</text>
<text x="408.25" y="415.40" font-size="7.9" font-weight="bold" textLength="24.46" lengthAdjust="spacingAndGlyphs" fill="#111" stroke="#111" stroke-width="0.04">右环网</text>
<text x="139.30" y="321.50" font-size="8" font-weight="bold" textLength="49.51" lengthAdjust="spacingAndGlyphs" fill="#111" stroke="#111" stroke-width="0.04"><tspan font-size="8.7" stroke-width="0.16">EMS</tspan><tspan font-size="7.9" stroke-width="0.04">网管终端</tspan></text>
<text x="139.10" y="331.50" font-size="8.7" font-weight="bold" textLength="49.96" lengthAdjust="spacingAndGlyphs" fill="#111" stroke="#111" stroke-width="0.16">Kyvision Pro</text>
<text x="152.55" y="340.35" font-size="8.7" font-weight="bold" textLength="22.86" lengthAdjust="spacingAndGlyphs" fill="#111" stroke="#111" stroke-width="0.16">Client</text>
<text x="195.10" y="321.50" font-size="8" font-weight="bold" textLength="49.21" lengthAdjust="spacingAndGlyphs" fill="#111" stroke="#111" stroke-width="0.04"><tspan font-size="8.7" stroke-width="0.16">EMS</tspan><tspan font-size="7.9" stroke-width="0.04">网管终端</tspan></text>
<text x="194.30" y="331.50" font-size="8.7" font-weight="bold" textLength="49.76" lengthAdjust="spacingAndGlyphs" fill="#111" stroke="#111" stroke-width="0.16">Kyvision Pro</text>
<text x="208.05" y="340.35" font-size="8.7" font-weight="bold" textLength="22.86" lengthAdjust="spacingAndGlyphs" fill="#111" stroke="#111" stroke-width="0.16">Client</text>
<text x="249.10" y="321.50" font-size="8" font-weight="bold" textLength="49.31" lengthAdjust="spacingAndGlyphs" fill="#111" stroke="#111" stroke-width="0.04"><tspan font-size="8.7" stroke-width="0.16">EMS</tspan><tspan font-size="7.9" stroke-width="0.04">网管终端</tspan></text>
<text x="248.50" y="331.50" font-size="8.7" font-weight="bold" textLength="50.16" lengthAdjust="spacingAndGlyphs" fill="#111" stroke="#111" stroke-width="0.16">Kyvision Pro</text>
<text x="262.05" y="340.35" font-size="8.7" font-weight="bold" textLength="22.86" lengthAdjust="spacingAndGlyphs" fill="#111" stroke="#111" stroke-width="0.16">Client</text>
<text x="431.50" y="322.20" font-size="8" font-weight="bold" textLength="49.31" lengthAdjust="spacingAndGlyphs" fill="#111" stroke="#111" stroke-width="0.04"><tspan font-size="8.7" stroke-width="0.16">EMS</tspan><tspan font-size="7.9" stroke-width="0.04">网管终端</tspan></text>
<text x="431.10" y="332.20" font-size="8.7" font-weight="bold" textLength="49.96" lengthAdjust="spacingAndGlyphs" fill="#111" stroke="#111" stroke-width="0.16">Kyvision Pro</text>
<text x="444.85" y="341.05" font-size="8.7" font-weight="bold" textLength="22.56" lengthAdjust="spacingAndGlyphs" fill="#111" stroke="#111" stroke-width="0.16">Client</text>
<text x="489.80" y="322.20" font-size="8" font-weight="bold" textLength="49.21" lengthAdjust="spacingAndGlyphs" fill="#111" stroke="#111" stroke-width="0.04"><tspan font-size="8.7" stroke-width="0.16">EMS</tspan><tspan font-size="7.9" stroke-width="0.04">网管终端</tspan></text>
<text x="489.30" y="332.20" font-size="8.7" font-weight="bold" textLength="49.76" lengthAdjust="spacingAndGlyphs" fill="#111" stroke="#111" stroke-width="0.16">Kyvision Pro</text>
<text x="502.85" y="341.05" font-size="8.7" font-weight="bold" textLength="22.76" lengthAdjust="spacingAndGlyphs" fill="#111" stroke="#111" stroke-width="0.16">Client</text>
<text x="546.80" y="322.20" font-size="8" font-weight="bold" textLength="49.01" lengthAdjust="spacingAndGlyphs" fill="#111" stroke="#111" stroke-width="0.04"><tspan font-size="8.7" stroke-width="0.16">EMS</tspan><tspan font-size="7.9" stroke-width="0.04">网管终端</tspan></text>
<text x="546.30" y="332.20" font-size="8.7" font-weight="bold" textLength="50.26" lengthAdjust="spacingAndGlyphs" fill="#111" stroke="#111" stroke-width="0.16">Kyvision Pro</text>
<text x="560.05" y="341.05" font-size="8.7" font-weight="bold" textLength="22.86" lengthAdjust="spacingAndGlyphs" fill="#111" stroke="#111" stroke-width="0.16">Client</text>
</svg></body></html>
